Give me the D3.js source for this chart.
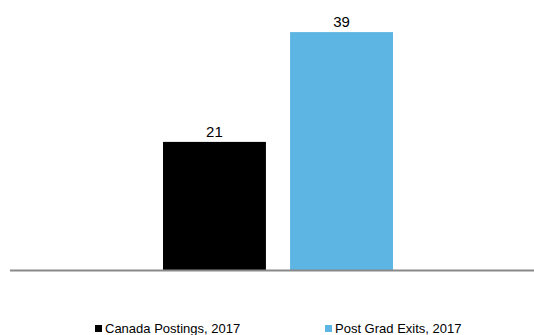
<!DOCTYPE html>
<html><head><meta charset="utf-8">
<script src="https://cdn.jsdelivr.net/npm/d3@7"></script>
<style>body{margin:0;background:#fff}svg{display:block}</style>
</head><body>
<script>
const series = ["Canada Postings, 2017", "Post Grad Exits, 2017"];
const values = [21, 39];
const colors = ["#000000", "#5DB5E3"];

const W = 534, H = 335;
const svg = d3.select("body").append("svg").attr("width", W).attr("height", H)
  .style("font-family", "'Liberation Sans', Arial, sans-serif");

const x = d3.scaleBand().domain(series).range([163, 393]).paddingInner(0.19).paddingOuter(0);
const y = d3.scaleLinear().domain([0, 40]).range([270, 26]);

svg.selectAll("rect.bar").data(series).join("rect").attr("class", "bar")
  .attr("x", d => x(d)).attr("width", x.bandwidth())
  .attr("y", (d, i) => y(values[i])).attr("height", (d, i) => y(0) - y(values[i]))
  .attr("fill", (d, i) => colors[i]);

svg.selectAll("text.lbl").data(series).join("text").attr("class", "lbl")
  .attr("x", d => x(d) + x.bandwidth() / 2)
  .attr("y", (d, i) => y(values[i]) - 5)
  .attr("text-anchor", "middle").attr("font-size", 15).attr("fill", "#000")
  .text((d, i) => values[i]);

svg.append("line").attr("x1", 10).attr("x2", W).attr("y1", y(0) + 0.5).attr("y2", y(0) + 0.5)
  .attr("stroke", "#898989").attr("stroke-width", 2);

const legX = [95, 325];
const lg = svg.selectAll("g.leg").data(series).join("g").attr("class", "leg")
  .attr("transform", (d, i) => `translate(${legX[i]},325)`);
lg.append("rect").attr("width", 7).attr("height", 7).attr("fill", (d, i) => colors[i]);
lg.append("text").attr("x", 10).attr("y", 8.3).attr("font-size", 13).attr("fill", "#000").text(d => d);
</script>
</body></html>
